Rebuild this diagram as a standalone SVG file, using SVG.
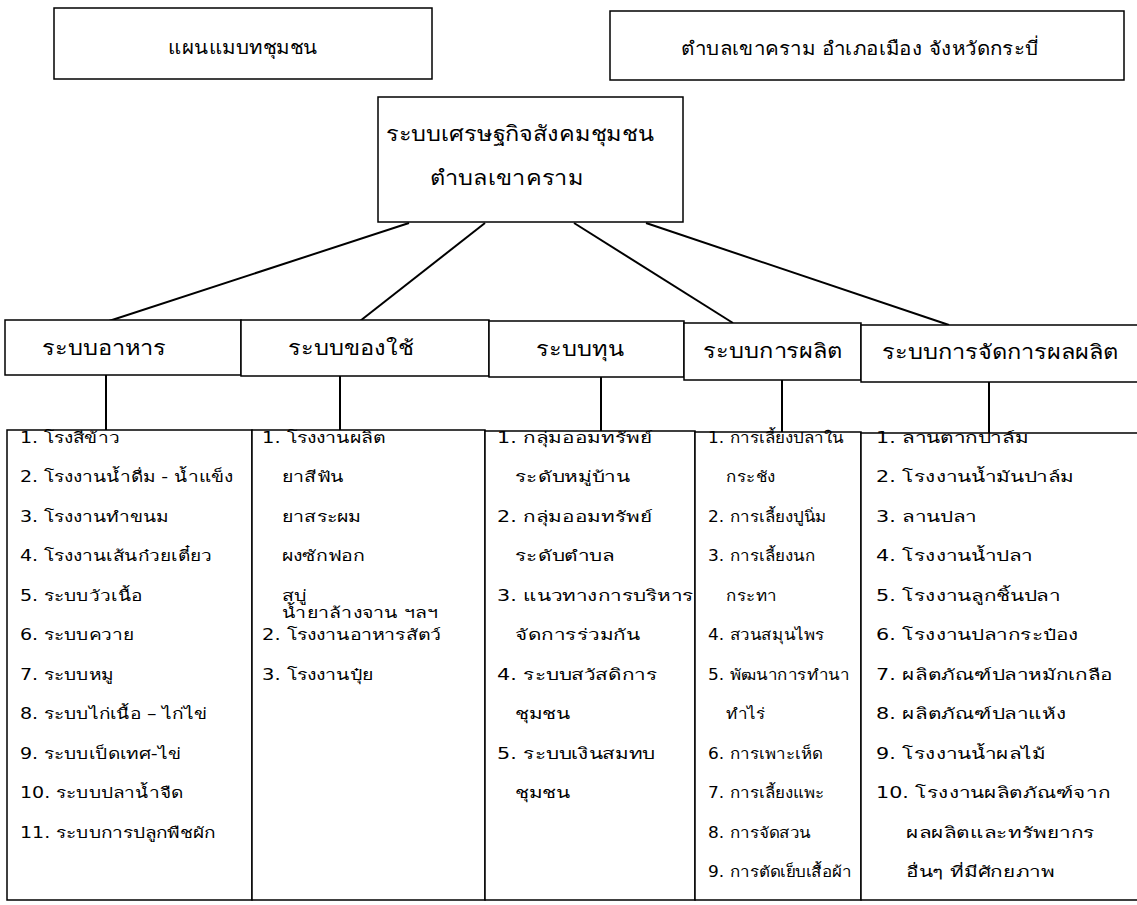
<svg xmlns="http://www.w3.org/2000/svg" width="1137" height="905" viewBox="0 0 1137 905">
<style>
.box{fill:#fff;stroke:#000;stroke-width:1.5}
.ln{stroke:#000;stroke-width:2;fill:none}
text{font-family:"DejaVu Sans","Noto Sans",sans-serif;fill:#000;transform-box:fill-box}
.t{font-size:19px;text-anchor:middle;transform-origin:50% 50%;transform:scaleX(1.08)}
.r{font-size:21px;text-anchor:middle;transform-origin:50% 50%;transform:scaleX(1.12)}
.c{font-size:20px;text-anchor:middle;transform-origin:50% 50%;transform:scaleX(1.18)}
.i{font-size:15px;transform-origin:0 50%}
.s1 .i{transform:scaleX(1.27)}
.s2 .i{transform:scaleX(1.3)}
.s3 .i{transform:scaleX(1.38)}
.s4 .i{transform:scaleX(1.13)}
.s5 .i{transform:scaleX(1.38)}
</style>
<rect width="1137" height="905" fill="#fff"/>
<g id="connectors">
<line class="ln" x1="409" y1="223" x2="109" y2="321"/>
<line class="ln" x1="485" y1="223" x2="360" y2="321"/>
<line class="ln" x1="574" y1="223" x2="733" y2="323"/>
<line class="ln" x1="646" y1="223" x2="949" y2="325"/>
<line class="ln" x1="106" y1="375" x2="106" y2="430"/>
<line class="ln" x1="340" y1="376" x2="340" y2="430"/>
<line class="ln" x1="601" y1="377" x2="601" y2="431"/>
<line class="ln" x1="782" y1="379" x2="782" y2="433"/>
<line class="ln" x1="989" y1="381" x2="989" y2="434"/>
</g>
<g id="node-plan"><rect class="box" x="54" y="8" width="378" height="71"/><text class="t" x="243" y="54">แผนแมบทชุมชน</text></g>
<g id="node-location"><rect class="box" x="610" y="11" width="514" height="69"/><text class="t" x="860" y="55">ตำบลเขาคราม  อำเภอเมือง  จังหวัดกระบี่</text></g>
<g id="node-root"><rect class="box" x="378" y="97" width="305" height="125"/><text class="r" x="520" y="141">ระบบเศรษฐกิจสังคมชุมชน</text><text class="r" x="507" y="185">ตำบลเขาคราม</text></g>
<g id="node-food"><rect class="box" x="5" y="320" width="236" height="55"/><text class="c" x="104" y="355">ระบบอาหาร</text></g>
<g id="node-goods"><rect class="box" x="241" y="320" width="248" height="56"/><text class="c" x="351" y="355">ระบบของใช้</text></g>
<g id="node-capital"><rect class="box" x="489" y="321" width="195" height="56"/><text class="c" x="580" y="356">ระบบทุน</text></g>
<g id="node-production"><rect class="box" x="684" y="323" width="177" height="57"/><text class="c" x="773" y="358">ระบบการผลิต</text></g>
<g id="node-management"><rect class="box" x="861" y="325" width="278" height="57"/><text class="c" x="1000" y="359">ระบบการจัดการผลผลิต</text></g>
<g id="list-food" class="s1"><rect class="box" x="7" y="430" width="245" height="470"/>
<text class="i" x="20" y="443">1. โรงสีข้าว</text>
<text class="i" x="20" y="482">2. โรงงานน้ำดื่ม - น้ำแข็ง</text>
<text class="i" x="20" y="522">3. โรงงานทำขนม</text>
<text class="i" x="20" y="561">4. โรงงานเส้นก๋วยเตี๋ยว</text>
<text class="i" x="20" y="601">5. ระบบวัวเนื้อ</text>
<text class="i" x="20" y="640">6. ระบบควาย</text>
<text class="i" x="20" y="680">7. ระบบหมู</text>
<text class="i" x="20" y="719">8. ระบบไก่เนื้อ –  ไก่ไข่</text>
<text class="i" x="20" y="759">9. ระบบเป็ดเทศ-ไข่</text>
<text class="i" x="20" y="798">10. ระบบปลาน้ำจืด</text>
<text class="i" x="20" y="838">11. ระบบการปลูกพืชผัก</text>
</g>
<g id="list-goods" class="s2"><rect class="box" x="252" y="430" width="233" height="470"/>
<text class="i" x="262" y="443">1. โรงงานผลิต</text>
<text class="i" x="282" y="482">ยาสีฟัน</text>
<text class="i" x="282" y="522">ยาสระผม</text>
<text class="i" x="282" y="561">ผงซักฟอก</text>
<text class="i" x="282" y="601">สบู่</text>
<text class="i" x="282" y="618">น้ำยาล้างจาน ฯลฯ</text>
<text class="i" x="262" y="640">2. โรงงานอาหารสัตว์</text>
<text class="i" x="262" y="680">3. โรงงานปุ๋ย</text>
</g>
<g id="list-capital" class="s3"><rect class="box" x="485" y="431" width="210" height="469"/>
<text class="i" x="497" y="443">1. กลุ่มออมทรัพย์</text>
<text class="i" x="515" y="482">ระดับหมู่บ้าน</text>
<text class="i" x="497" y="522">2. กลุ่มออมทรัพย์</text>
<text class="i" x="515" y="561">ระดับตำบล</text>
<text class="i" x="497" y="601">3. แนวทางการบริหาร</text>
<text class="i" x="515" y="640">จัดการร่วมกัน</text>
<text class="i" x="497" y="680">4. ระบบสวัสดิการ</text>
<text class="i" x="515" y="719">ชุมชน</text>
<text class="i" x="497" y="759">5. ระบบเงินสมทบ</text>
<text class="i" x="515" y="798">ชุมชน</text>
</g>
<g id="list-production" class="s4"><rect class="box" x="695" y="432" width="166" height="468"/>
<text class="i" x="708" y="443">1. การเลี้ยงปลาใน</text>
<text class="i" x="726" y="482">กระชัง</text>
<text class="i" x="708" y="522">2. การเลี้ยงปูนิ่ม</text>
<text class="i" x="708" y="561">3. การเลี้ยงนก</text>
<text class="i" x="726" y="601">กระทา</text>
<text class="i" x="708" y="640">4. สวนสมุนไพร</text>
<text class="i" x="708" y="680">5. พัฒนาการทำนา</text>
<text class="i" x="726" y="719">ทำไร่</text>
<text class="i" x="708" y="759">6. การเพาะเห็ด</text>
<text class="i" x="708" y="798">7. การเลี้ยงแพะ</text>
<text class="i" x="708" y="838">8. การจัดสวน</text>
<text class="i" x="708" y="877">9. การตัดเย็บเสื้อผ้า</text>
</g>
<g id="list-management" class="s5"><rect class="box" x="861" y="433" width="280" height="467"/>
<text class="i" x="876" y="443">1. ลานตากปาล์ม</text>
<text class="i" x="876" y="482">2. โรงงานน้ำมันปาล์ม</text>
<text class="i" x="876" y="522">3. ลานปลา</text>
<text class="i" x="876" y="561">4. โรงงานน้ำปลา</text>
<text class="i" x="876" y="601">5. โรงงานลูกชิ้นปลา</text>
<text class="i" x="876" y="640">6. โรงงานปลากระป๋อง</text>
<text class="i" x="876" y="680">7. ผลิตภัณฑ์ปลาหมักเกลือ</text>
<text class="i" x="876" y="719">8. ผลิตภัณฑ์ปลาแห้ง</text>
<text class="i" x="876" y="759">9. โรงงานน้ำผลไม้</text>
<text class="i" x="876" y="798">10. โรงงานผลิตภัณฑ์จาก</text>
<text class="i" x="906" y="838">ผลผลิตและทรัพยากร</text>
<text class="i" x="906" y="877">อื่นๆ ที่มีศักยภาพ</text>
</g>
</svg>
